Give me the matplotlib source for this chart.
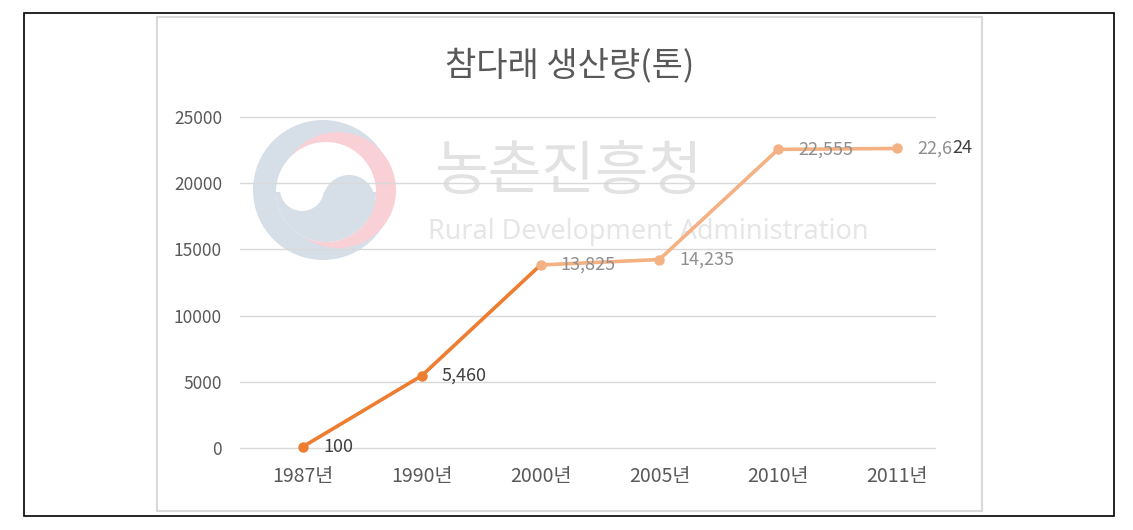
import matplotlib
matplotlib.use("Agg")
import matplotlib.pyplot as plt
from matplotlib.patches import Circle, Rectangle, Wedge

plt.rcParams['font.family'] = ['Noto Sans CJK KR', 'DejaVu Sans']

# ---- data ----
years = ["1987년", "1990년", "2000년", "2005년", "2010년", "2011년"]
production = [100, 5460, 13825, 14235, 22555, 22624]
dark_count = 2          # first points drawn in dark orange
title = "참다래 생산량(톤)"
y_ticks = [0, 5000, 10000, 15000, 20000, 25000]
watermark_kr = "농촌진흥청"
watermark_en = "Rural Development Administration"

DARK = "#ED7D31"
LIGHT = "#F4B183"
TXT = "#595959"
BLUE = "#d6dee7"
PINK = "#f9d0d6"

W, H = 1133, 530
fig = plt.figure(figsize=(W / 100, H / 100), dpi=100)

# background / overlay axes in pixel coordinates
bg = fig.add_axes([0, 0, 1, 1], zorder=0)
bg.set_xlim(0, W)
bg.set_ylim(H, 0)
bg.axis("off")

# frames
bg.add_patch(Rectangle((24, 13), 1090, 503, fill=False, ec="black", lw=1.2))
bg.add_patch(Rectangle((157, 17), 825, 494, fill=False, ec="#d9d9d9", lw=1.5))

# watermark logo (approximation)
bg.add_patch(Circle((323, 190), 70, fc=BLUE, ec="none"))
bg.add_patch(Circle((338, 190), 58, fc=PINK, ec="none"))
bg.add_patch(Circle((326, 192), 50, fc="white", ec="none"))
bg.add_patch(Wedge((326, 192), 50, 0, 180, fc=BLUE, ec="none"))  # lower half (inverted y)
bg.add_patch(Circle((302, 189), 22, fc="white", ec="none"))
bg.add_patch(Circle((349, 201), 26, fc=BLUE, ec="none"))

bg.text(568, 172, watermark_kr, fontsize=42, color="#e2e2e2", ha="center",
        va="center", fontweight="medium")
bg.text(648, 232, watermark_en, fontsize=19.5, color="#e6e6e6", ha="center",
        va="center", family=["Noto Sans", "DejaVu Sans"])

# title
bg.text(570, 66, title, fontsize=24.5, color=TXT, ha="center", va="center")

# main axes
left, right, bottom, top = 240, 935, 448, 117
ax = fig.add_axes([left / W, (H - bottom) / H, (right - left) / W, (bottom - top) / H],
                  zorder=1)
ax.patch.set_alpha(0)
x = list(range(len(years)))

ax.plot(x[:dark_count + 1], production[:dark_count + 1], color=DARK, lw=2.6,
        solid_capstyle="round", zorder=3)
ax.plot(x[dark_count:], production[dark_count:], color=LIGHT, lw=2.6,
        solid_capstyle="round", zorder=3)
ax.plot(x[:dark_count], production[:dark_count], "o", color=DARK, ms=6.5, zorder=4,
        clip_on=False)
ax.plot(x[dark_count:], production[dark_count:], "o", color=LIGHT, ms=6.5, zorder=4)

FS = 13
for i, v in enumerate(production):
    lab = f"{v:,}"
    if i < dark_count:
        ax.annotate(lab, (i, v), xytext=(14.5, 0), textcoords="offset points",
                    ha="left", va="center", fontsize=FS, color="#404040", zorder=5)
    elif i == len(production) - 1:
        t1 = ax.annotate(lab[:-2], (i, v), xytext=(14.5, 0), textcoords="offset points",
                         ha="left", va="center", fontsize=FS, color="#8f8f8f", zorder=5)
        ax.annotate(lab[-2:], xy=(1, 0.5), xycoords=t1, ha="left", va="center",
                    fontsize=FS, color="#404040", zorder=5)
    else:
        ax.annotate(lab, (i, v), xytext=(14.5, 0), textcoords="offset points",
                    ha="left", va="center", fontsize=FS, color="#8f8f8f", zorder=5)

ax.set_xlim(-0.53, 5.32)
ax.set_ylim(0, 25000)
ax.set_yticks(y_ticks)
ax.set_yticklabels([str(t) for t in y_ticks])
ax.set_xticks(x)
ax.set_xticklabels(years)
ax.tick_params(axis="both", length=0, labelcolor=TXT)
ax.tick_params(axis="y", pad=13, labelsize=12.5)
ax.tick_params(axis="x", pad=13, labelsize=14)
ax.grid(axis="y", color="#d9d9d9", lw=1)
ax.set_axisbelow(True)
for gl in ax.get_ygridlines():
    gl.set_clip_on(False)
for s in ax.spines.values():
    s.set_visible(False)

fig.savefig("out.png", dpi=100)
